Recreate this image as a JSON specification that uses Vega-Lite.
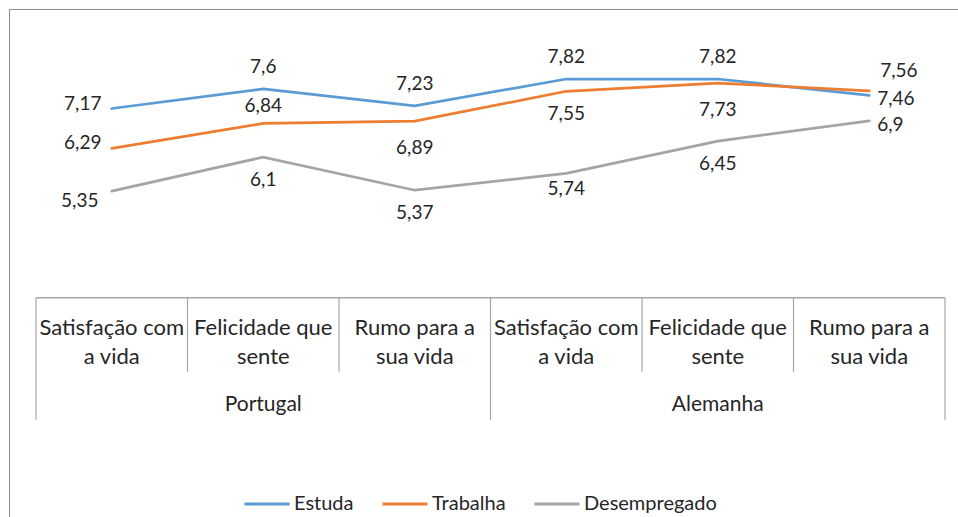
{
  "$schema": "https://vega.github.io/schema/vega-lite/v6.json",
  "width": 958,
  "height": 517,
  "padding": 0,
  "autosize": {"type": "none"},
  "background": "white",
  "config": {
    "view": {"stroke": null},
    "font": "Lato",
    "locale": {"number": {"decimal": ",", "thousands": ".", "grouping": [3], "currency": ["", " €"]}}
  },
  "datasets": {
    "series": [
      {"idx": 0.5, "serie": "Estuda", "v": 7.17, "pos": "left"},
      {"idx": 1.5, "serie": "Estuda", "v": 7.6, "pos": "above"},
      {"idx": 2.5, "serie": "Estuda", "v": 7.23, "pos": "above"},
      {"idx": 3.5, "serie": "Estuda", "v": 7.82, "pos": "above"},
      {"idx": 4.5, "serie": "Estuda", "v": 7.82, "pos": "above"},
      {"idx": 5.5, "serie": "Estuda", "v": 7.46, "pos": "right"},
      {"idx": 0.5, "serie": "Trabalha", "v": 6.29, "pos": "left"},
      {"idx": 1.5, "serie": "Trabalha", "v": 6.84, "pos": "abovenear"},
      {"idx": 2.5, "serie": "Trabalha", "v": 6.89, "pos": "belowfar"},
      {"idx": 3.5, "serie": "Trabalha", "v": 7.55, "pos": "below"},
      {"idx": 4.5, "serie": "Trabalha", "v": 7.73, "pos": "belowfar"},
      {"idx": 5.5, "serie": "Trabalha", "v": 7.56, "pos": "aboveright"},
      {"idx": 0.5, "serie": "Desempregado", "v": 5.35, "pos": "belowleft"},
      {"idx": 1.5, "serie": "Desempregado", "v": 6.1, "pos": "below"},
      {"idx": 2.5, "serie": "Desempregado", "v": 5.37, "pos": "below"},
      {"idx": 3.5, "serie": "Desempregado", "v": 5.74, "pos": "belownear"},
      {"idx": 4.5, "serie": "Desempregado", "v": 6.45, "pos": "below"},
      {"idx": 5.5, "serie": "Desempregado", "v": 6.9, "pos": "right"}
    ],
    "cats": [
      {"idx": 0.5, "label": "Satisfação com\na vida"},
      {"idx": 1.5, "label": "Felicidade que\nsente"},
      {"idx": 2.5, "label": "Rumo para a\nsua vida"},
      {"idx": 3.5, "label": "Satisfação com\na vida"},
      {"idx": 4.5, "label": "Felicidade que\nsente"},
      {"idx": 5.5, "label": "Rumo para a\nsua vida"}
    ],
    "bounds": [
      {"b": 0, "kind": "outer"},
      {"b": 1, "kind": "inner"},
      {"b": 2, "kind": "inner"},
      {"b": 3, "kind": "outer"},
      {"b": 4, "kind": "inner"},
      {"b": 5, "kind": "inner"},
      {"b": 6, "kind": "outer"}
    ],
    "groups": [
      {"idx": 1.5, "label": "Portugal"},
      {"idx": 4.5, "label": "Alemanha"}
    ],
    "one": [{"k": 1}]
  },
  "layer": [
    {
      "data": {"name": "one"},
      "mark": {"type": "rule", "color": "#8c8c8c", "strokeWidth": 1},
      "encoding": {
        "x": {"datum": -0.1749, "type": "quantitative", "scale": {"domain": [-0.23762, 6.08581], "nice": false, "zero": false}, "axis": null},
        "y": {"datum": 9.351, "type": "quantitative", "scale": {"domain": [-1.8276, 9.5601], "nice": false, "zero": false}, "axis": null},
        "y2": {"datum": -1.8276}
      }
    },
    {
      "data": {"name": "one"},
      "mark": {"type": "rule", "color": "#8c8c8c", "strokeWidth": 1},
      "encoding": {
        "x": {"datum": -0.1749, "type": "quantitative"},
        "x2": {"datum": 6.08581},
        "y": {"datum": 9.351, "type": "quantitative"}
      }
    },
    {
      "data": {"name": "one"},
      "mark": {"type": "rule", "color": "#a6a6a6", "strokeWidth": 1.5},
      "encoding": {
        "x": {"datum": 0, "type": "quantitative"},
        "x2": {"datum": 6},
        "y": {"datum": 3, "type": "quantitative"}
      }
    },
    {
      "data": {"name": "bounds"},
      "transform": [{"filter": "datum.kind == 'inner'"}],
      "mark": {"type": "rule", "color": "#a6a6a6", "strokeWidth": 1.2},
      "encoding": {
        "x": {"field": "b", "type": "quantitative"},
        "y": {"datum": 3, "type": "quantitative"},
        "y2": {"datum": 1.37}
      }
    },
    {
      "data": {"name": "bounds"},
      "transform": [{"filter": "datum.kind == 'outer'"}],
      "mark": {"type": "rule", "color": "#a6a6a6", "strokeWidth": 1.2},
      "encoding": {
        "x": {"field": "b", "type": "quantitative"},
        "y": {"datum": 3, "type": "quantitative"},
        "y2": {"datum": 0.313}
      }
    },
    {
      "data": {"name": "cats"},
      "mark": {"type": "text", "font": "Lato", "fontSize": 22, "color": "#262626", "lineBreak": "\n", "lineHeight": 29, "baseline": "middle", "align": "center"},
      "encoding": {
        "x": {"field": "idx", "type": "quantitative"},
        "y": {"datum": 2.335, "type": "quantitative"},
        "text": {"field": "label"}
      }
    },
    {
      "data": {"name": "groups"},
      "mark": {"type": "text", "font": "Lato", "fontSize": 21, "color": "#262626", "baseline": "middle", "align": "center"},
      "encoding": {
        "x": {"field": "idx", "type": "quantitative"},
        "y": {"datum": 0.643, "type": "quantitative"},
        "text": {"field": "label"}
      }
    },
    {
      "data": {"name": "series"},
      "mark": {"type": "line", "strokeWidth": 2.75, "strokeCap": "round"},
      "encoding": {
        "x": {"field": "idx", "type": "quantitative"},
        "y": {"field": "v", "type": "quantitative"},
        "color": {
          "field": "serie",
          "type": "nominal",
          "scale": {"domain": ["Estuda", "Trabalha", "Desempregado"], "range": ["#5B9BD5", "#ED7D31", "#A5A5A5"]},
          "legend": {
            "title": null,
            "orient": "none",
            "legendX": 243,
            "legendY": 480,
            "direction": "horizontal",
            "symbolType": "stroke",
            "symbolSize": 2025,
            "symbolStrokeWidth": 3,
            "labelFont": "Lato",
            "labelFontSize": 20,
            "labelColor": "#262626",
            "labelOffset": 3,
            "columnPadding": 22
          }
        }
      }
    },
    {
      "data": {"name": "series"},
      "transform": [{"filter": "datum.pos == 'above'"}],
      "mark": {"type": "text", "font": "Lato", "fontSize": 19, "color": "#262626", "baseline": "middle", "align": "center", "dy": -22},
      "encoding": {
        "x": {"field": "idx", "type": "quantitative"},
        "y": {"field": "v", "type": "quantitative"},
        "text": {"field": "v", "type": "quantitative", "format": ".3~g"}
      }
    },
    {
      "data": {"name": "series"},
      "transform": [{"filter": "datum.pos == 'abovenear'"}],
      "mark": {"type": "text", "font": "Lato", "fontSize": 19, "color": "#262626", "baseline": "middle", "align": "center", "dy": -17},
      "encoding": {
        "x": {"field": "idx", "type": "quantitative"},
        "y": {"field": "v", "type": "quantitative"},
        "text": {"field": "v", "type": "quantitative", "format": ".3~g"}
      }
    },
    {
      "data": {"name": "series"},
      "transform": [{"filter": "datum.pos == 'below'"}],
      "mark": {"type": "text", "font": "Lato", "fontSize": 19, "color": "#262626", "baseline": "middle", "align": "center", "dy": 23},
      "encoding": {
        "x": {"field": "idx", "type": "quantitative"},
        "y": {"field": "v", "type": "quantitative"},
        "text": {"field": "v", "type": "quantitative", "format": ".3~g"}
      }
    },
    {
      "data": {"name": "series"},
      "transform": [{"filter": "datum.pos == 'belownear'"}],
      "mark": {"type": "text", "font": "Lato", "fontSize": 19, "color": "#262626", "baseline": "middle", "align": "center", "dy": 16},
      "encoding": {
        "x": {"field": "idx", "type": "quantitative"},
        "y": {"field": "v", "type": "quantitative"},
        "text": {"field": "v", "type": "quantitative", "format": ".3~g"}
      }
    },
    {
      "data": {"name": "series"},
      "transform": [{"filter": "datum.pos == 'belowfar'"}],
      "mark": {"type": "text", "font": "Lato", "fontSize": 19, "color": "#262626", "baseline": "middle", "align": "center", "dy": 27},
      "encoding": {
        "x": {"field": "idx", "type": "quantitative"},
        "y": {"field": "v", "type": "quantitative"},
        "text": {"field": "v", "type": "quantitative", "format": ".3~g"}
      }
    },
    {
      "data": {"name": "series"},
      "transform": [{"filter": "datum.pos == 'left'"}],
      "mark": {"type": "text", "font": "Lato", "fontSize": 19, "color": "#262626", "baseline": "middle", "align": "center", "dx": -29, "dy": -5},
      "encoding": {
        "x": {"field": "idx", "type": "quantitative"},
        "y": {"field": "v", "type": "quantitative"},
        "text": {"field": "v", "type": "quantitative", "format": ".3~g"}
      }
    },
    {
      "data": {"name": "series"},
      "transform": [{"filter": "datum.pos == 'belowleft'"}],
      "mark": {"type": "text", "font": "Lato", "fontSize": 19, "color": "#262626", "baseline": "middle", "align": "center", "dx": -32, "dy": 10},
      "encoding": {
        "x": {"field": "idx", "type": "quantitative"},
        "y": {"field": "v", "type": "quantitative"},
        "text": {"field": "v", "type": "quantitative", "format": ".3~g"}
      }
    },
    {
      "data": {"name": "series"},
      "transform": [{"filter": "datum.pos == 'right'"}],
      "mark": {"type": "text", "font": "Lato", "fontSize": 19, "color": "#262626", "baseline": "middle", "align": "left", "dx": 8, "dy": 4},
      "encoding": {
        "x": {"field": "idx", "type": "quantitative"},
        "y": {"field": "v", "type": "quantitative"},
        "text": {"field": "v", "type": "quantitative", "format": ".3~g"}
      }
    },
    {
      "data": {"name": "series"},
      "transform": [{"filter": "datum.pos == 'aboveright'"}],
      "mark": {"type": "text", "font": "Lato", "fontSize": 19, "color": "#262626", "baseline": "middle", "align": "left", "dx": 11, "dy": -20},
      "encoding": {
        "x": {"field": "idx", "type": "quantitative"},
        "y": {"field": "v", "type": "quantitative"},
        "text": {"field": "v", "type": "quantitative", "format": ".3~g"}
      }
    }
  ]
}
